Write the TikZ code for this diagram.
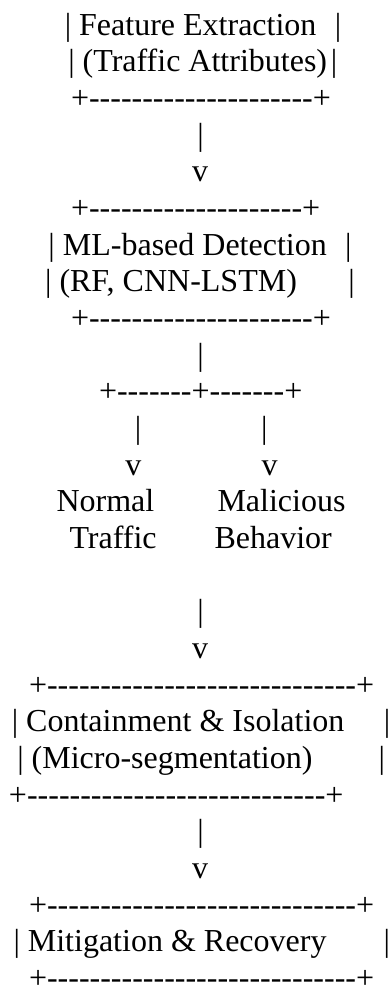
\documentclass[tikz,border=0pt]{standalone}
\usepackage{fontspec}
\setmainfont{Liberation Serif}[Ligatures=TeXOff]
\begin{document}
\begin{tikzpicture}[x=1pt,y=-1pt,
  txt/.style={inner sep=0pt, outer sep=0pt, font=\fontsize{32}{36.67}\selectfont, anchor=base west},
  ctr/.style={txt, anchor=base}]
\fill[white] (0,0) rectangle (388,989);
\useasboundingbox (0,0) rectangle (388,989);
% box 1
\node[txt] (l1) at (64.8,35) {\makebox[276.4pt][l]{| Feature Extraction\hfill|}};
\node[txt] (l2) at (68.3,71.67) {\makebox[268.9pt][l]{| (Traffic Attributes)\hfill|}};
\node[txt] (l3) at (71,108.33) {+---------------------+};
\node[ctr] (a1) at (200.7,145) {|};
\node[ctr] (v1) at (200,181.67) {v};
% box 2
\node[txt] (l6) at (71,218.33) {+--------------------+};
\node[txt] (l7) at (48.5,255) {\makebox[303pt][l]{| ML-based Detection\hfill|}};
\node[txt] (l8) at (45.1,291.67) {\makebox[309.8pt][l]{| (RF, CNN-LSTM)\hfill|}};
\node[txt] (l9) at (71,328.33) {+---------------------+};
\node[ctr] (a2) at (200.7,365) {|};
\node[txt] (l11) at (99,401.67) {+-------+-------+};
\node[ctr] (a3) at (138,438.33) {|};
\node[ctr] (a4) at (264.3,438.33) {|};
\node[ctr] (v2) at (133.3,475) {v};
\node[ctr] (v3) at (269.7,475) {v};
\node[txt] (n1) at (56.5,511.67) {Normal};
\node[txt] (m1) at (217.5,511.67) {Malicious};
\node[txt] (n2) at (69.5,548.33) {Traffic};
\node[txt] (m2) at (214.5,548.33) {Behavior};
\node[ctr] (a5) at (200.7,621.67) {|};
\node[ctr] (v4) at (200,658.33) {v};
% box 3
\node[txt] (l19) at (29,695) {+-----------------------------+};
\node[txt] (l20) at (11.8,731.67) {\makebox[378.4pt][l]{| Containment \& Isolation\hfill|}};
\node[txt] (l21) at (17.3,768.33) {\makebox[367.6pt][l]{| (Micro-segmentation)\hfill|}};
\node[txt] (l22) at (9,805) {+----------------------------+};
\node[ctr] (a6) at (200.7,841.67) {|};
\node[ctr] (v5) at (200,878.33) {v};
% box 4
\node[txt] (l25) at (29,915) {+-----------------------------+};
\node[txt] (l26) at (13.5,951.67) {\makebox[376.4pt][l]{| Mitigation \& Recovery\hfill|}};
\node[txt] (l27) at (29,988.33) {+-----------------------------+};
\end{tikzpicture}
\end{document}
